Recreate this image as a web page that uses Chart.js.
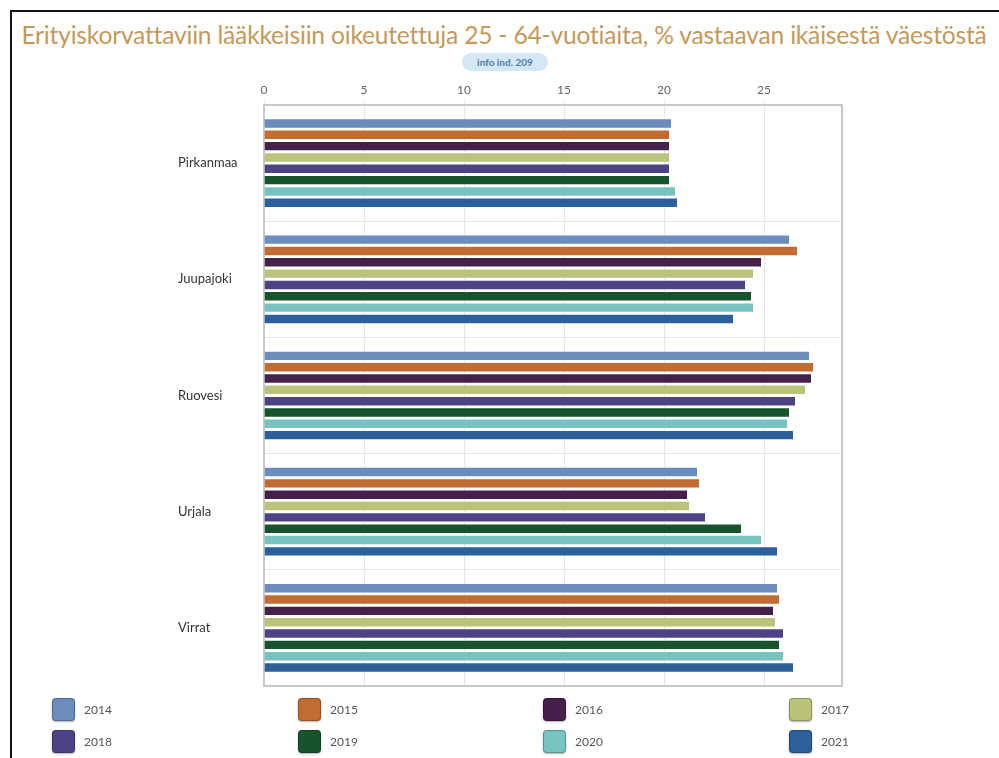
<!DOCTYPE html>
<html>
<head>
<meta charset="utf-8">
<script src="https://cdn.jsdelivr.net/npm/chart.js@4/dist/chart.umd.min.js"></script>
<style>
  html, body { margin: 0; padding: 0; background: #fff; }
  body { width: 999px; height: 758px; position: relative; overflow: hidden; font-family: Lato, "Open Sans", sans-serif; }
  #frame { position: absolute; left: 10px; top: 10px; width: 1100px; height: 900px; border-left: 2px solid #111; border-top: 2px solid #111; box-sizing: border-box; }
  #title { position: absolute; left: 0; width: 1008px; top: 20px; text-align: center; color: #c39a5c; font-size: 24.6px; white-space: nowrap; letter-spacing: -0.2px; }
  #pill { position: absolute; left: 462px; top: 53px; width: 86px; height: 18px; line-height: 18px; border-radius: 9px; background: #d4e7f5; color: #4a7ca6; font-size: 10px; font-weight: bold; text-align: center; }
  #wrap { position: absolute; left: 0; top: 0; width: 999px; height: 758px; }
  #legend { position: absolute; left: 0; top: 0; width: 999px; height: 758px; pointer-events: none; }
  .li { position: absolute; height: 24px; display: flex; align-items: center; }
  .sw { width: 23px; height: 23px; border-radius: 4px; box-sizing: border-box; border: 1px solid rgba(0,0,0,0.25); box-shadow: 0 1px 2px rgba(0,0,0,0.3); }
  .lt { margin-left: 9px; font-size: 12px; color: #555; }
</style>
</head>
<body>
<div id="frame"></div>
<div id="title">Erityiskorvattaviin lääkkeisiin oikeutettuja 25 - 64-vuotiaita, % vastaavan ikäisestä väestöstä</div>
<div id="pill">info ind. 209</div>
<div id="wrap"><canvas id="c" width="999" height="758"></canvas></div>
<div id="legend"></div>
<script>
const categories = ["Pirkanmaa", "Juupajoki", "Ruovesi", "Urjala", "Virrat"];
const years = ["2014", "2015", "2016", "2017", "2018", "2019", "2020", "2021"];
const colors = ["#6a8dbd", "#c06c32", "#45204a", "#bcc27a", "#4f4284", "#17542e", "#76c3c2", "#2d5f9b"];
const v2014 = [20.4, 26.3, 27.3, 21.7, 25.7];
const v2015 = [20.3, 26.7, 27.5, 21.8, 25.8];
const v2016 = [20.3, 24.9, 27.4, 21.2, 25.5];
const v2017 = [20.3, 24.5, 27.1, 21.3, 25.6];
const v2018 = [20.3, 24.1, 26.6, 22.1, 26.0];
const v2019 = [20.3, 24.4, 26.3, 23.9, 25.8];
const v2020 = [20.6, 24.5, 26.2, 24.9, 26.0];
const v2021 = [20.7, 23.5, 26.5, 25.7, 26.5];
const series = [v2014, v2015, v2016, v2017, v2018, v2019, v2020, v2021];
const xTicks = [0, 5, 10, 15, 20, 25];

const datasets = years.map((y, i) => ({
  label: y,
  data: series[i],
  backgroundColor: colors[i],
  borderColor: "rgba(255,255,255,0.3)",
  borderWidth: 1,
  barPercentage: 0.92,
  categoryPercentage: 0.78
}));

new Chart(document.getElementById("c"), {
  type: "bar",
  data: { labels: categories, datasets },
  options: {
    indexAxis: "y",
    responsive: false,
    animation: false,
    layout: { padding: { left: 178, right: 157, top: 80, bottom: 72 } },
    plugins: { legend: { display: false }, tooltip: { enabled: false } },
    scales: {
      x: {
        position: "top",
        min: 0, max: 28.9,
        afterBuildTicks: (s) => { s.ticks = xTicks.map(v => ({ value: v })); },
        afterFit: (s) => { s.height = 25; },
        ticks: { color: "#666", font: { size: 12, family: "Lato" }, padding: 4 },
        grid: { color: "#e6e6e6", lineWidth: 1, drawTicks: true, tickLength: 4 },
        border: { color: "#c8c8c8", width: 2 }
      },
      y: {
        afterFit: (s) => { s.width = 86; },
        ticks: { color: "#333", font: { size: 13, family: "Lato" }, crossAlign: "far" },
        grid: { color: "#e6e6e6", lineWidth: 1, drawTicks: false, offset: true },
        border: { color: "#c8c8c8", width: 2 }
      }
    }
  },
  plugins: [{
    id: "frameBox",
    afterDraw(chart) {
      const { ctx, chartArea: a } = chart;
      ctx.save();
      ctx.strokeStyle = "#c8c8c8";
      ctx.lineWidth = 2;
      ctx.beginPath();
      ctx.moveTo(a.right, a.top); ctx.lineTo(a.right, a.bottom); ctx.lineTo(a.left, a.bottom);
      ctx.stroke();
      ctx.restore();
    }
  }]
});

const lg = document.getElementById("legend");
const colX = [52, 298, 543, 789];
const rowY = [697, 729];
years.forEach((y, i) => {
  const d = document.createElement("div");
  d.className = "li";
  d.style.left = colX[i % 4] + "px";
  d.style.top = rowY[Math.floor(i / 4)] + "px";
  d.innerHTML = '<div class="sw" style="background:' + colors[i] + '"></div><span class="lt">' + y + '</span>';
  lg.appendChild(d);
});
</script>
</body>
</html>
